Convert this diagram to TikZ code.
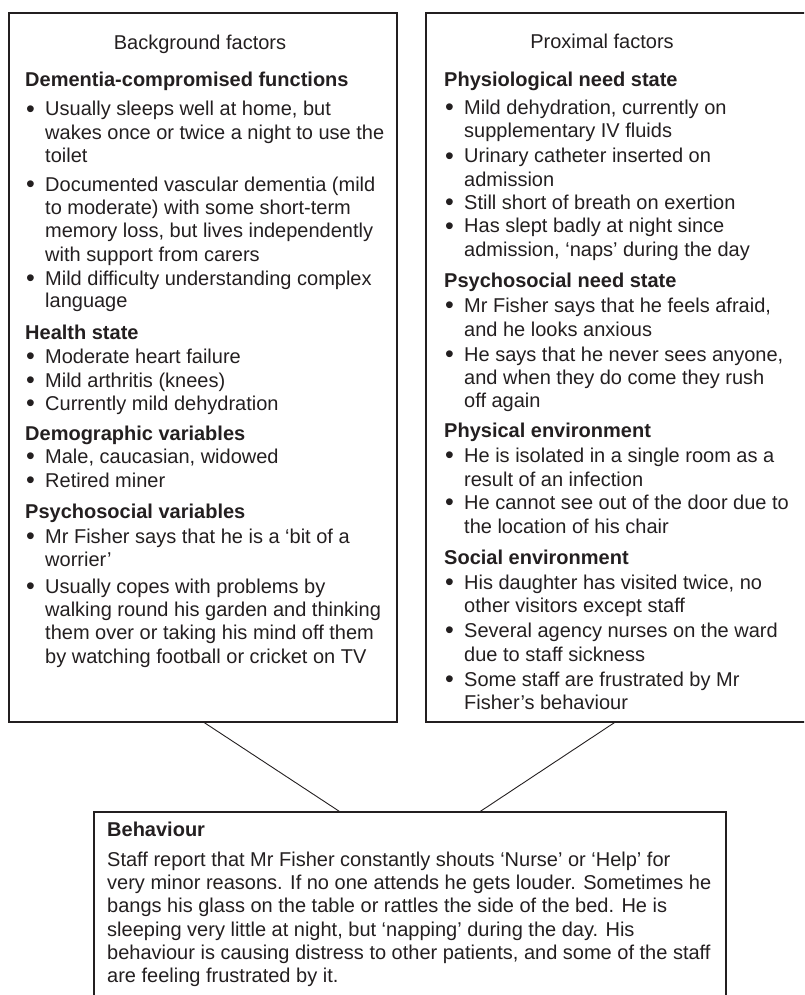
\documentclass[tikz,border=0pt]{standalone}
\usepackage{fontspec}
\setmainfont{Liberation Sans}
\definecolor{ink}{HTML}{231F20}
\newcommand\Tline[4]{\node[txt] (#1) at (#2,#3) {#4};}
\newcommand\Hline[4]{\node[txt,font=\fontsize{20}{23.4}\selectfont\bfseries] (#1) at (#2,#3) {#4};}
\newcommand\Bline[4]{\node[txt] (#1) at (#2,#3) {\makebox[19pt][l]{\raisebox{-1.6pt}{\scalebox{1.25}{\textbullet}}}#4};}
\begin{document}
\begin{tikzpicture}[x=1pt,y=-1pt,
  txt/.style={anchor=base west,inner sep=0pt,text=ink,font=\fontsize{20}{23.4}\selectfont},
  ctitle/.style={txt,anchor=base},
  box/.style={draw=ink,line width=1.3pt,inner sep=0pt,fill=none},
  link/.style={draw=ink,line width=0.9pt}]
\useasboundingbox (0,0) rectangle (804,995);
\clip (0,0) rectangle (804,995);
% boxes
\node[box,minimum width=388pt,minimum height=709pt] (bg) at (203,367.5) {};
\node[box,minimum width=404pt,minimum height=709pt] (pf) at (628,367.5) {};
\node[box,minimum width=632pt,minimum height=198pt] (beh) at (410,911) {};
% connectors
\draw[link] ([xshift=196pt]bg.south west) -- ([xshift=246pt]beh.north west);
\draw[link] ([xshift=189pt]pf.south west) -- ([xshift=387pt]beh.north west);
% left box
\node[ctitle] (L0) at (200,50) {Background factors};
\Hline{L1}{25}{87}{Dementia-compromised functions}
\Bline{L2}{26}{116}{Usually sleeps well at home, but}
\Tline{L3}{45}{139.3}{wakes once or twice a night to use the}
\Tline{L4}{45}{162.7}{toilet}
\Bline{L5}{26}{191}{Documented vascular dementia (mild}
\Tline{L6}{45}{214.3}{to moderate) with some short-term}
\Tline{L7}{45}{237.6}{memory loss, but lives independently}
\Tline{L8}{45}{261}{with support from carers}
\Bline{L9}{26}{285}{Mild difficulty understanding complex}
\Tline{L10}{45}{307.6}{language}
\Hline{L11}{25}{339}{Health state}
\Bline{L12}{26}{363}{Moderate heart failure}
\Bline{L13}{26}{387}{Mild arthritis (knees)}
\Bline{L14}{26}{410}{Currently mild dehydration}
\Hline{L15}{25}{440}{Demographic variables}
\Bline{L16}{26}{463}{Male, caucasian, widowed}
\Bline{L17}{26}{487}{Retired miner}
\Hline{L18}{25}{518}{Psychosocial variables}
\Bline{L19}{26}{543}{Mr Fisher says that he is a ‘bit of a}
\Tline{L20}{45}{566}{worrier’}
\Bline{L21}{26}{593}{Usually copes with problems by}
\Tline{L22}{45}{616}{walking round his garden and thinking}
\Tline{L23}{45}{639}{them over or taking his mind off them}
\Tline{L24}{45}{663}{by watching football or cricket on TV}
% right box
\node[ctitle] (R0) at (602,49) {Proximal factors};
\Hline{R1}{444}{87}{Physiological need state}
\Bline{R2}{445}{114.3}{Mild dehydration, currently on}
\Tline{R3}{464}{137.6}{supplementary IV fluids}
\Bline{R4}{445}{162.6}{Urinary catheter inserted on}
\Tline{R5}{464}{186}{admission}
\Bline{R6}{445}{209.3}{Still short of breath on exertion}
\Bline{R7}{445}{232.6}{Has slept badly at night since}
\Tline{R8}{464}{256}{admission, ‘naps’ during the day}
\Hline{R9}{444}{287}{Psychosocial need state}
\Bline{R10}{445}{312}{Mr Fisher says that he feels afraid,}
\Tline{R11}{464}{336}{and he looks anxious}
\Bline{R12}{445}{361}{He says that he never sees anyone,}
\Tline{R13}{464}{384}{and when they do come they rush}
\Tline{R14}{464}{407}{off again}
\Hline{R15}{444}{437}{Physical environment}
\Bline{R16}{445}{462}{He is isolated in a single room as a}
\Tline{R17}{464}{486}{result of an infection}
\Bline{R18}{445}{509}{He cannot see out of the door due to}
\Tline{R19}{464}{533}{the location of his chair}
\Hline{R20}{444}{564}{Social environment}
\Bline{R21}{445}{589}{His daughter has visited twice, no}
\Tline{R22}{464}{612}{other visitors except staff}
\Bline{R23}{445}{637}{Several agency nurses on the ward}
\Tline{R24}{464}{661}{due to staff sickness}
\Bline{R25}{445}{686}{Some staff are frustrated by Mr}
\Tline{R26}{464}{709}{Fisher’s behaviour}
% behaviour box
\Hline{B0}{107}{836}{Behaviour}
\Tline{B1}{107}{866}{Staff report that Mr Fisher constantly shouts ‘Nurse’ or ‘Help’ for}
\Tline{B2}{107}{889.3}{very minor reasons. If no one attends he gets louder. Sometimes he}
\Tline{B3}{107}{912.6}{bangs his glass on the table or rattles the side of the bed. He is}
\Tline{B4}{107}{936}{sleeping very little at night, but ‘napping’ during the day. His}
\Tline{B5}{107}{959.3}{behaviour is causing distress to other patients, and some of the staff}
\Tline{B6}{107}{982.6}{are feeling frustrated by it.}
\end{tikzpicture}
\end{document}
